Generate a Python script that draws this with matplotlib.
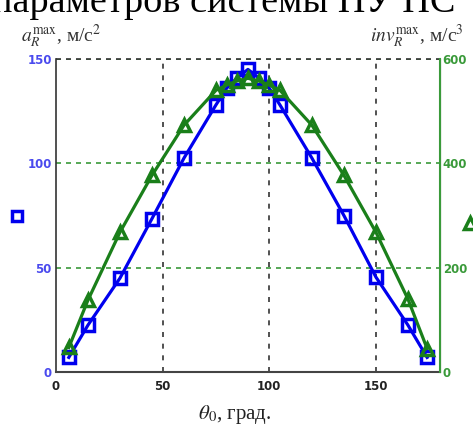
import matplotlib
matplotlib.use("Agg")
from matplotlib import pyplot as plt

# angle theta_0, deg
theta = [6, 15, 30, 45, 60, 75, 80, 85, 90, 95, 100, 105, 120, 135, 150, 165, 174]
# a_R max, m/s^2 (left axis)
a_max = [7, 22.5, 45, 73.5, 102.5, 128, 136, 141, 145, 141, 136, 128, 102.5, 75, 45.5, 22.5, 7]
# inv_R max, m/s^3 (right axis)
inv_max = [47, 138, 268, 377, 473, 540, 550, 558, 563, 558, 550, 540, 473, 377, 268, 140, 45]

x_ticks = [0, 50, 100, 150]
left_ticks = [0, 50, 100, 150]
right_ticks = [0, 200, 400, 600]

blue = "#0000ee"
green = "#1a7f1a"

plt.rcParams["font.family"] = ["DejaVu Sans"]
plt.rcParams["mathtext.fontset"] = "stix"

fig = plt.figure(figsize=(4.73, 4.37), dpi=100)
ax = fig.add_axes([0.1184, 0.1487, 0.8116, 0.7163])
ax2 = ax.twinx()

# grid
for v in [50, 100, 150]:
    ax.axvline(v, color="#333333", ls=(0, (3, 4)), lw=1.2, zorder=0)
for v in [50, 100, 150]:
    ax.axhline(v, color="#3a9a3a", ls=(0, (3, 3)), lw=1.2, zorder=0)

ax.plot(theta, a_max, color=blue, lw=2.3, marker="s", ms=8,
        mfc="none", mec=blue, mew=2.5, zorder=3)
ax2.plot(theta, inv_max, color=green, lw=2.3, marker="^", ms=9,
         mfc="none", mec=green, mew=2.5, zorder=3)

ax.set_xlim(0, 180)
ax.set_ylim(0, 150)
ax2.set_ylim(0, 600)

ax.set_xticks(x_ticks)
ax.set_yticks(left_ticks)
ax2.set_yticks(right_ticks)
ax.tick_params(axis="both", length=0, labelsize=8.5)
ax.tick_params(axis="x", pad=6, colors="#222222")
ax.tick_params(axis="y", colors="#4a4aee", pad=3)
ax2.tick_params(axis="y", length=0, colors="#3a9a3a", labelsize=8.5, pad=2)
for lab in ax.get_xticklabels() + ax.get_yticklabels() + ax2.get_yticklabels():
    lab.set_fontweight("bold")

for a in (ax, ax2):
    a.spines["top"].set_visible(False)
ax.spines["bottom"].set_color("#444444")
ax.spines["bottom"].set_linewidth(1.5)
ax.spines["left"].set_color("#333333")
ax.spines["left"].set_linewidth(1.2)
ax2.spines["left"].set_visible(False)
ax2.spines["bottom"].set_visible(False)
ax2.spines["right"].set_color("#3a9a3a")
ax2.spines["right"].set_linewidth(1.5)
ax.plot([0, 180], [150, 150], color="#333333", ls=(0, (3, 3)), lw=1.2,
        clip_on=False, zorder=1)

# legend-like markers outside the plot
ax.plot([-18.5], [75], marker="s", ms=7, mfc="none", mec=blue, mew=2.5,
        clip_on=False, ls="none")
ax2.plot([194], [285], marker="^", ms=9, mfc="none", mec=green, mew=2.5,
         clip_on=False, ls="none")

serif = ["Liberation Serif", "DejaVu Serif"]
# heading of the page, cut by the top edge as in the source
fig.text(0.962, 0.9725, "параметров системы ПУ НС", family=serif, fontsize=27.5,
         ha="right", va="baseline", color="black")
fig.text(0.045, 0.905, r"$a_R^{\mathrm{max}}$, м/с$^2$", family=serif,
         fontsize=14, color="#333333")
fig.text(0.782, 0.905, r"$inv_R^{\mathrm{max}}$, м/с$^3$", family=serif,
         fontsize=14, color="#333333")
fig.text(0.497, 0.042, r"$\theta_0$, град.", family=serif, fontsize=15,
         ha="center", color="#222222")

fig.savefig("out.png", dpi=100)
